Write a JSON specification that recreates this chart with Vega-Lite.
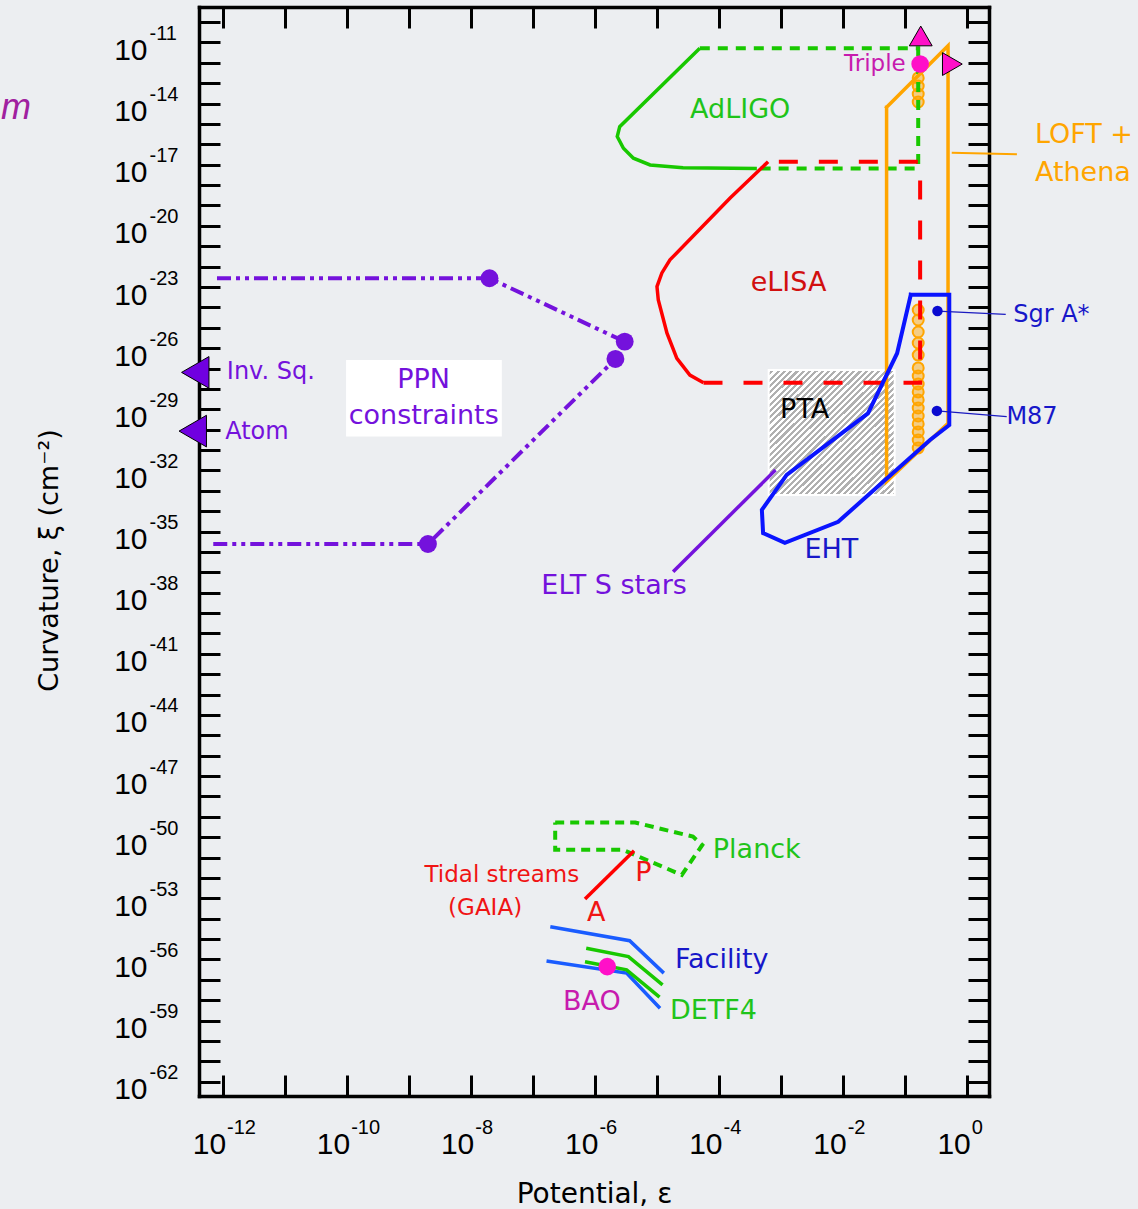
{
  "$schema": "https://vega.github.io/schema/vega-lite/v6.json",
  "width": 790,
  "height": 1089,
  "autosize": {"type": "none"},
  "padding": {"left": 199, "top": 7, "right": 149, "bottom": 113},
  "background": "#eceef1",
  "config": {
    "view": {"stroke": null},
    "font": "DejaVu Sans",
    "axis": {"labelFont": "Liberation Sans", "titleFont": "DejaVu Sans"},
    "text": {"font": "DejaVu Sans"}
  },
  "datasets": {
    "boxes": [
      {"id": "PTA", "x": 6.31e-4, "x2": 0.0676, "y": 8.51e-28, "y2": 6.17e-34},
      {"id": "PPN", "x": 9.77e-11, "x2": 3.16e-8, "y": 2.63e-27, "y2": 4.57e-31}
    ],
    "lines": [
      {"id": "adligo", "i": 0, "x": 4.90e-5, "y": 5.13e-12},
      {"id": "adligo", "i": 1, "x": 2.51e-6, "y": 7.41e-16},
      {"id": "adligo", "i": 2, "x": 2.29e-6, "y": 2.40e-16},
      {"id": "adligo", "i": 3, "x": 2.88e-6, "y": 6.46e-17},
      {"id": "adligo", "i": 4, "x": 4.17e-6, "y": 2.09e-17},
      {"id": "adligo", "i": 5, "x": 7.76e-6, "y": 9.77e-18},
      {"id": "adligo", "i": 6, "x": 2.63e-5, "y": 7.08e-18},
      {"id": "adligo", "i": 7, "x": 4.07e-4, "y": 6.61e-18},
      {"id": "adligo_d", "i": 0, "x": 4.90e-5, "y": 5.13e-12},
      {"id": "adligo_d", "i": 1, "x": 0.162, "y": 5.13e-12},
      {"id": "adligo_d", "i": 2, "x": 0.162, "y": 6.61e-18},
      {"id": "adligo_d", "i": 3, "x": 4.07e-4, "y": 6.61e-18},
      {"id": "elisa", "i": 0, "x": 6.17e-4, "y": 1.41e-17},
      {"id": "elisa", "i": 1, "x": 1.51e-4, "y": 2.34e-19},
      {"id": "elisa", "i": 2, "x": 1.62e-5, "y": 2.14e-22},
      {"id": "elisa", "i": 3, "x": 1.20e-5, "y": 4.90e-23},
      {"id": "elisa", "i": 4, "x": 1.00e-5, "y": 1.05e-23},
      {"id": "elisa", "i": 5, "x": 1.05e-5, "y": 2.29e-24},
      {"id": "elisa", "i": 6, "x": 1.45e-5, "y": 5.37e-26},
      {"id": "elisa", "i": 7, "x": 2.09e-5, "y": 3.16e-27},
      {"id": "elisa", "i": 8, "x": 3.39e-5, "y": 4.79e-28},
      {"id": "elisa", "i": 9, "x": 5.62e-5, "y": 2.00e-28},
      {"id": "elisa_d", "i": 0, "x": 5.62e-5, "y": 2.00e-28},
      {"id": "elisa_d", "i": 1, "x": 0.174, "y": 2.00e-28},
      {"id": "elisa_d", "i": 2, "x": 0.174, "y": 1.41e-17},
      {"id": "elisa_d", "i": 3, "x": 6.17e-4, "y": 1.41e-17},
      {"id": "loft", "i": 0, "x": 0.0501, "y": 6.61e-15},
      {"id": "loft", "i": 1, "x": 0.490, "y": 6.92e-12},
      {"id": "loft", "i": 2, "x": 0.490, "y": 2.04e-30},
      {"id": "loft", "i": 3, "x": 0.0501, "y": 2.82e-33},
      {"id": "loft", "i": 4, "x": 0.0501, "y": 6.61e-15},
      {"id": "loft_lead", "i": 0, "x": 0.562, "y": 3.89e-17},
      {"id": "loft_lead", "i": 1, "x": 6.31, "y": 3.24e-17},
      {"id": "eht", "i": 0, "x": 0.123, "y": 4.17e-24},
      {"id": "eht", "i": 1, "x": 0.513, "y": 4.17e-24},
      {"id": "eht", "i": 2, "x": 0.513, "y": 1.70e-30},
      {"id": "eht", "i": 3, "x": 0.251, "y": 3.09e-31},
      {"id": "eht", "i": 4, "x": 8.32e-3, "y": 3.02e-35},
      {"id": "eht", "i": 5, "x": 1.15e-3, "y": 2.82e-36},
      {"id": "eht", "i": 6, "x": 5.13e-4, "y": 8.32e-36},
      {"id": "eht", "i": 7, "x": 4.90e-4, "y": 1.15e-34},
      {"id": "eht", "i": 8, "x": 1.23e-3, "y": 6.03e-33},
      {"id": "eht", "i": 9, "x": 0.0251, "y": 6.31e-30},
      {"id": "eht", "i": 10, "x": 0.0741, "y": 5.62e-27},
      {"id": "eht", "i": 11, "x": 0.123, "y": 4.17e-24},
      {"id": "sgr_lead", "i": 0, "x": 0.331, "y": 6.61e-25},
      {"id": "sgr_lead", "i": 1, "x": 4.17, "y": 4.57e-25},
      {"id": "m87_lead", "i": 0, "x": 0.324, "y": 8.32e-30},
      {"id": "m87_lead", "i": 1, "x": 4.32, "y": 4.37e-30},
      {"id": "elt", "i": 0, "x": 8.13e-4, "y": 1.05e-32},
      {"id": "elt", "i": 1, "x": 1.82e-5, "y": 1.07e-37},
      {"id": "ppn_u", "i": 0, "x": 8.13e-13, "y": 2.69e-23},
      {"id": "ppn_u", "i": 1, "x": 2.00e-8, "y": 2.69e-23},
      {"id": "ppn_u", "i": 2, "x": 3.02e-6, "y": 2.09e-26},
      {"id": "ppn_l", "i": 0, "x": 7.08e-13, "y": 2.45e-36},
      {"id": "ppn_l", "i": 1, "x": 2.04e-9, "y": 2.45e-36},
      {"id": "ppn_l", "i": 2, "x": 2.14e-6, "y": 2.95e-27},
      {"id": "planck", "i": 0, "x": 2.29e-7, "y": 5.25e-50},
      {"id": "planck", "i": 1, "x": 4.47e-6, "y": 5.25e-50},
      {"id": "planck", "i": 2, "x": 3.80e-5, "y": 1.07e-50},
      {"id": "planck", "i": 3, "x": 5.37e-5, "y": 4.17e-51},
      {"id": "planck", "i": 4, "x": 2.51e-5, "y": 1.41e-52},
      {"id": "planck", "i": 5, "x": 2.82e-6, "y": 2.40e-51},
      {"id": "planck", "i": 6, "x": 2.29e-7, "y": 2.40e-51},
      {"id": "planck", "i": 7, "x": 2.29e-7, "y": 5.25e-50},
      {"id": "tidal", "i": 0, "x": 6.92e-7, "y": 9.33e-54},
      {"id": "tidal", "i": 1, "x": 4.27e-6, "y": 2.19e-51},
      {"id": "fac1", "i": 0, "x": 1.91e-7, "y": 4.07e-55},
      {"id": "fac1", "i": 1, "x": 3.63e-6, "y": 8.32e-56},
      {"id": "fac1", "i": 2, "x": 1.29e-5, "y": 2.14e-57},
      {"id": "fac2", "i": 0, "x": 1.66e-7, "y": 8.51e-57},
      {"id": "fac2", "i": 1, "x": 3.24e-6, "y": 2.14e-57},
      {"id": "fac2", "i": 2, "x": 1.12e-5, "y": 4.07e-59},
      {"id": "detf1", "i": 0, "x": 7.24e-7, "y": 3.55e-56},
      {"id": "detf1", "i": 1, "x": 3.47e-6, "y": 1.38e-56},
      {"id": "detf1", "i": 2, "x": 1.23e-5, "y": 5.62e-58},
      {"id": "detf2", "i": 0, "x": 6.92e-7, "y": 7.76e-57},
      {"id": "detf2", "i": 1, "x": 3.24e-6, "y": 3.09e-57},
      {"id": "detf2", "i": 2, "x": 1.10e-5, "y": 1.41e-58}
    ],
    "points": [
      {"id": "loft", "x": 0.162, "y": 1.82e-13},
      {"id": "loft", "x": 0.162, "y": 7.24e-14},
      {"id": "loft", "x": 0.162, "y": 2.95e-14},
      {"id": "loft", "x": 0.162, "y": 1.20e-14},
      {"id": "loft", "x": 0.162, "y": 7.41e-25},
      {"id": "loft", "x": 0.162, "y": 2.40e-25},
      {"id": "loft", "x": 0.162, "y": 6.17e-26},
      {"id": "loft", "x": 0.162, "y": 1.78e-26},
      {"id": "loft", "x": 0.162, "y": 4.57e-27},
      {"id": "loft", "x": 0.162, "y": 1.07e-27},
      {"id": "loft", "x": 0.162, "y": 4.27e-28},
      {"id": "loft", "x": 0.162, "y": 1.74e-28},
      {"id": "loft", "x": 0.162, "y": 7.08e-29},
      {"id": "loft", "x": 0.162, "y": 2.88e-29},
      {"id": "loft", "x": 0.162, "y": 1.15e-29},
      {"id": "loft", "x": 0.162, "y": 4.68e-30},
      {"id": "loft", "x": 0.162, "y": 1.91e-30},
      {"id": "loft", "x": 0.162, "y": 7.76e-31},
      {"id": "loft", "x": 0.162, "y": 3.09e-31},
      {"id": "loft", "x": 0.162, "y": 1.26e-31},
      {"id": "ppn", "x": 2.00e-8, "y": 2.69e-23},
      {"id": "ppn", "x": 3.02e-6, "y": 2.09e-26},
      {"id": "ppn", "x": 2.14e-6, "y": 2.95e-27},
      {"id": "ppn", "x": 2.04e-9, "y": 2.45e-36},
      {"id": "src", "x": 0.331, "y": 6.61e-25},
      {"id": "src", "x": 0.324, "y": 8.32e-30},
      {"id": "triple", "x": 0.174, "y": 8.71e-13},
      {"id": "bao", "x": 1.58e-6, "y": 4.47e-57},
      {"id": "tri_up", "x": 0.178, "y": 2.09e-11},
      {"id": "tri_right", "x": 0.575, "y": 8.71e-13},
      {"id": "inv", "x": 3.63e-13, "y": 6.46e-28},
      {"id": "atom", "x": 3.31e-13, "y": 8.51e-31}
    ],
    "labels": [
      {"g": "c27", "s": "AdLIGO", "t": "AdLIGO", "x": 2.19e-4, "y": 4.90e-15},
      {"g": "c27", "s": "eLISA", "t": "eLISA", "x": 1.32e-3, "y": 1.51e-23},
      {"g": "c27", "s": "PTA", "t": "PTA", "x": 2.40e-3, "y": 9.33e-30},
      {"g": "c27", "s": "EHT", "t": "EHT", "x": 6.46e-3, "y": 1.26e-36},
      {"g": "c27", "s": "ELT", "t": "ELT S stars", "x": 2.04e-6, "y": 2.14e-38},
      {"g": "c27", "s": "PPN", "t": "PPN", "x": 1.74e-9, "y": 2.75e-28},
      {"g": "c27", "s": "PPN", "t": "constraints", "x": 1.74e-9, "y": 4.68e-30},
      {"g": "c27", "s": "Tidal", "t": "P", "x": 6.03e-6, "y": 1.70e-52},
      {"g": "c27", "s": "Tidal", "t": "A", "x": 1.05e-6, "y": 1.86e-54},
      {"g": "c27", "s": "BAO", "t": "BAO", "x": 8.91e-7, "y": 8.51e-59},
      {"g": "l27", "s": "Planck", "t": "Planck", "x": 7.94e-5, "y": 2.40e-51},
      {"g": "l27", "s": "Facility", "t": "Facility", "x": 1.95e-5, "y": 9.55e-57},
      {"g": "l27", "s": "DETF4", "t": "DETF4", "x": 1.62e-5, "y": 3.09e-59},
      {"g": "l27", "s": "LOFT", "t": "LOFT +", "x": 12.3, "y": 2.88e-16},
      {"g": "l27", "s": "LOFT", "t": "Athena", "x": 12.3, "y": 3.89e-18},
      {"g": "l24", "s": "SgrA", "t": "Sgr A*", "x": 5.50, "y": 4.27e-25},
      {"g": "l24", "s": "M87", "t": "M87", "x": 4.27, "y": 4.37e-30},
      {"g": "l24", "s": "InvSq", "t": "Inv. Sq.", "x": 1.17e-12, "y": 6.76e-28},
      {"g": "l24", "s": "Atom", "t": "Atom", "x": 1.10e-12, "y": 7.59e-31},
      {"g": "c23", "s": "Tidal", "t": "Tidal streams", "x": 3.16e-8, "y": 1.41e-52},
      {"g": "c23", "s": "Tidal", "t": "(GAIA)", "x": 1.70e-8, "y": 3.39e-54},
      {"g": "r23", "s": "Triple", "t": "Triple", "x": 0.102, "y": 8.71e-13},
      {"g": "m", "s": "Intro", "t": "m", "x": 2.69e-16, "y": 6.03e-15}
    ]
  },
  "layer": [
    {
      "encoding": {
        "x": {
          "field": "x", "type": "quantitative",
          "scale": {"type": "log", "domain": [4.17e-13, 2.24], "nice": false, "zero": false},
          "axis": {
            "orient": "bottom",
            "values": [1e-12, 1e-11, 1e-10, 1e-9, 1e-8, 1e-7, 1e-6, 1e-5, 1e-4, 1e-3, 1e-2, 1e-1, 1],
            "labelExpr": "round(log(datum.value)/LN10) % 2 == 0 ? '10' : ''",
            "grid": false,
            "domainColor": "#000000", "domainWidth": 3.5, "domainCap": "square",
            "tickColor": "#000000", "tickWidth": 3, "tickSize": -21,
            "labelFontSize": 30, "labelColor": "#000000", "labelPadding": 78,
            "labelAlign": "right", "labelOffset": 3,
            "labelBaseline": "alphabetic", "labelFlush": false, "labelOverlap": false,
            "title": "Potential, ε", "titleFontSize": 28, "titleFontWeight": "normal",
            "titleColor": "#000000", "titleY": 106, "titleBaseline": "alphabetic"
          }
        },
        "y": {
          "field": "y", "type": "quantitative",
          "scale": {"type": "log", "domain": [2.0e-63, 5.5e-10], "nice": false, "zero": false},
          "axis": {
            "orient": "left",
            "values": [1e-10, 1e-11, 1e-12, 1e-13, 1e-14, 1e-15, 1e-16, 1e-17, 1e-18, 1e-19, 1e-20, 1e-21, 1e-22, 1e-23, 1e-24, 1e-25, 1e-26, 1e-27, 1e-28, 1e-29, 1e-30, 1e-31, 1e-32, 1e-33, 1e-34, 1e-35, 1e-36, 1e-37, 1e-38, 1e-39, 1e-40, 1e-41, 1e-42, 1e-43, 1e-44, 1e-45, 1e-46, 1e-47, 1e-48, 1e-49, 1e-50, 1e-51, 1e-52, 1e-53, 1e-54, 1e-55, 1e-56, 1e-57, 1e-58, 1e-59, 1e-60, 1e-61, 1e-62],
            "labelExpr": "(round(log(datum.value)/LN10) + 11) % 3 == 0 ? '10' : ''",
            "grid": false,
            "domainColor": "#000000", "domainWidth": 3.5, "domainCap": "square",
            "tickColor": "#000000", "tickWidth": 3, "tickSize": -21,
            "labelFontSize": 30, "labelColor": "#000000", "labelPadding": 73,
            "labelAlign": "right", "labelBaseline": "alphabetic", "labelOffset": 17,
            "labelFlush": false, "labelOverlap": false,
            "title": "Curvature, ξ (cm⁻²)", "titleFontSize": 27, "titleFontWeight": "normal",
            "titleColor": "#000000", "titleX": -150, "titleY": 553, "titleBaseline": "middle", "titleAngle": -90, "titleAlign": "center"
          }
        }
      },
      "layer": [
        {
          "data": {"name": "boxes"},
          "encoding": {"x2": {"field": "x2"}, "y2": {"field": "y2"}},
          "layer": [
            {
              "transform": [{"filter": "datum.id == 'PTA'"}],
              "mark": {
                "type": "rect", "stroke": "#ffffff", "strokeWidth": 2,
                "fill": {
                  "gradient": "linear", "x1": 0, "y1": 0, "x2": 1, "y2": 1,
                  "stops": [
                    {"offset": 0, "color": "#fff"}, {"offset": 0.0125, "color": "#fff"}, {"offset": 0.0125, "color": "#b0b0b0"}, {"offset": 0.025, "color": "#b0b0b0"},
                    {"offset": 0.025, "color": "#fff"}, {"offset": 0.0375, "color": "#fff"}, {"offset": 0.0375, "color": "#b0b0b0"}, {"offset": 0.05, "color": "#b0b0b0"},
                    {"offset": 0.05, "color": "#fff"}, {"offset": 0.0625, "color": "#fff"}, {"offset": 0.0625, "color": "#b0b0b0"}, {"offset": 0.075, "color": "#b0b0b0"},
                    {"offset": 0.075, "color": "#fff"}, {"offset": 0.0875, "color": "#fff"}, {"offset": 0.0875, "color": "#b0b0b0"}, {"offset": 0.1, "color": "#b0b0b0"},
                    {"offset": 0.1, "color": "#fff"}, {"offset": 0.1125, "color": "#fff"}, {"offset": 0.1125, "color": "#b0b0b0"}, {"offset": 0.125, "color": "#b0b0b0"},
                    {"offset": 0.125, "color": "#fff"}, {"offset": 0.1375, "color": "#fff"}, {"offset": 0.1375, "color": "#b0b0b0"}, {"offset": 0.15, "color": "#b0b0b0"},
                    {"offset": 0.15, "color": "#fff"}, {"offset": 0.1625, "color": "#fff"}, {"offset": 0.1625, "color": "#b0b0b0"}, {"offset": 0.175, "color": "#b0b0b0"},
                    {"offset": 0.175, "color": "#fff"}, {"offset": 0.1875, "color": "#fff"}, {"offset": 0.1875, "color": "#b0b0b0"}, {"offset": 0.2, "color": "#b0b0b0"},
                    {"offset": 0.2, "color": "#fff"}, {"offset": 0.2125, "color": "#fff"}, {"offset": 0.2125, "color": "#b0b0b0"}, {"offset": 0.225, "color": "#b0b0b0"},
                    {"offset": 0.225, "color": "#fff"}, {"offset": 0.2375, "color": "#fff"}, {"offset": 0.2375, "color": "#b0b0b0"}, {"offset": 0.25, "color": "#b0b0b0"},
                    {"offset": 0.25, "color": "#fff"}, {"offset": 0.2625, "color": "#fff"}, {"offset": 0.2625, "color": "#b0b0b0"}, {"offset": 0.275, "color": "#b0b0b0"},
                    {"offset": 0.275, "color": "#fff"}, {"offset": 0.2875, "color": "#fff"}, {"offset": 0.2875, "color": "#b0b0b0"}, {"offset": 0.3, "color": "#b0b0b0"},
                    {"offset": 0.3, "color": "#fff"}, {"offset": 0.3125, "color": "#fff"}, {"offset": 0.3125, "color": "#b0b0b0"}, {"offset": 0.325, "color": "#b0b0b0"},
                    {"offset": 0.325, "color": "#fff"}, {"offset": 0.3375, "color": "#fff"}, {"offset": 0.3375, "color": "#b0b0b0"}, {"offset": 0.35, "color": "#b0b0b0"},
                    {"offset": 0.35, "color": "#fff"}, {"offset": 0.3625, "color": "#fff"}, {"offset": 0.3625, "color": "#b0b0b0"}, {"offset": 0.375, "color": "#b0b0b0"},
                    {"offset": 0.375, "color": "#fff"}, {"offset": 0.3875, "color": "#fff"}, {"offset": 0.3875, "color": "#b0b0b0"}, {"offset": 0.4, "color": "#b0b0b0"},
                    {"offset": 0.4, "color": "#fff"}, {"offset": 0.4125, "color": "#fff"}, {"offset": 0.4125, "color": "#b0b0b0"}, {"offset": 0.425, "color": "#b0b0b0"},
                    {"offset": 0.425, "color": "#fff"}, {"offset": 0.4375, "color": "#fff"}, {"offset": 0.4375, "color": "#b0b0b0"}, {"offset": 0.45, "color": "#b0b0b0"},
                    {"offset": 0.45, "color": "#fff"}, {"offset": 0.4625, "color": "#fff"}, {"offset": 0.4625, "color": "#b0b0b0"}, {"offset": 0.475, "color": "#b0b0b0"},
                    {"offset": 0.475, "color": "#fff"}, {"offset": 0.4875, "color": "#fff"}, {"offset": 0.4875, "color": "#b0b0b0"}, {"offset": 0.5, "color": "#b0b0b0"},
                    {"offset": 0.5, "color": "#fff"}, {"offset": 0.5125, "color": "#fff"}, {"offset": 0.5125, "color": "#b0b0b0"}, {"offset": 0.525, "color": "#b0b0b0"},
                    {"offset": 0.525, "color": "#fff"}, {"offset": 0.5375, "color": "#fff"}, {"offset": 0.5375, "color": "#b0b0b0"}, {"offset": 0.55, "color": "#b0b0b0"},
                    {"offset": 0.55, "color": "#fff"}, {"offset": 0.5625, "color": "#fff"}, {"offset": 0.5625, "color": "#b0b0b0"}, {"offset": 0.575, "color": "#b0b0b0"},
                    {"offset": 0.575, "color": "#fff"}, {"offset": 0.5875, "color": "#fff"}, {"offset": 0.5875, "color": "#b0b0b0"}, {"offset": 0.6, "color": "#b0b0b0"},
                    {"offset": 0.6, "color": "#fff"}, {"offset": 0.6125, "color": "#fff"}, {"offset": 0.6125, "color": "#b0b0b0"}, {"offset": 0.625, "color": "#b0b0b0"},
                    {"offset": 0.625, "color": "#fff"}, {"offset": 0.6375, "color": "#fff"}, {"offset": 0.6375, "color": "#b0b0b0"}, {"offset": 0.65, "color": "#b0b0b0"},
                    {"offset": 0.65, "color": "#fff"}, {"offset": 0.6625, "color": "#fff"}, {"offset": 0.6625, "color": "#b0b0b0"}, {"offset": 0.675, "color": "#b0b0b0"},
                    {"offset": 0.675, "color": "#fff"}, {"offset": 0.6875, "color": "#fff"}, {"offset": 0.6875, "color": "#b0b0b0"}, {"offset": 0.7, "color": "#b0b0b0"},
                    {"offset": 0.7, "color": "#fff"}, {"offset": 0.7125, "color": "#fff"}, {"offset": 0.7125, "color": "#b0b0b0"}, {"offset": 0.725, "color": "#b0b0b0"},
                    {"offset": 0.725, "color": "#fff"}, {"offset": 0.7375, "color": "#fff"}, {"offset": 0.7375, "color": "#b0b0b0"}, {"offset": 0.75, "color": "#b0b0b0"},
                    {"offset": 0.75, "color": "#fff"}, {"offset": 0.7625, "color": "#fff"}, {"offset": 0.7625, "color": "#b0b0b0"}, {"offset": 0.775, "color": "#b0b0b0"},
                    {"offset": 0.775, "color": "#fff"}, {"offset": 0.7875, "color": "#fff"}, {"offset": 0.7875, "color": "#b0b0b0"}, {"offset": 0.8, "color": "#b0b0b0"},
                    {"offset": 0.8, "color": "#fff"}, {"offset": 0.8125, "color": "#fff"}, {"offset": 0.8125, "color": "#b0b0b0"}, {"offset": 0.825, "color": "#b0b0b0"},
                    {"offset": 0.825, "color": "#fff"}, {"offset": 0.8375, "color": "#fff"}, {"offset": 0.8375, "color": "#b0b0b0"}, {"offset": 0.85, "color": "#b0b0b0"},
                    {"offset": 0.85, "color": "#fff"}, {"offset": 0.8625, "color": "#fff"}, {"offset": 0.8625, "color": "#b0b0b0"}, {"offset": 0.875, "color": "#b0b0b0"},
                    {"offset": 0.875, "color": "#fff"}, {"offset": 0.8875, "color": "#fff"}, {"offset": 0.8875, "color": "#b0b0b0"}, {"offset": 0.9, "color": "#b0b0b0"},
                    {"offset": 0.9, "color": "#fff"}, {"offset": 0.9125, "color": "#fff"}, {"offset": 0.9125, "color": "#b0b0b0"}, {"offset": 0.925, "color": "#b0b0b0"},
                    {"offset": 0.925, "color": "#fff"}, {"offset": 0.9375, "color": "#fff"}, {"offset": 0.9375, "color": "#b0b0b0"}, {"offset": 0.95, "color": "#b0b0b0"},
                    {"offset": 0.95, "color": "#fff"}, {"offset": 0.9625, "color": "#fff"}, {"offset": 0.9625, "color": "#b0b0b0"}, {"offset": 0.975, "color": "#b0b0b0"},
                    {"offset": 0.975, "color": "#fff"}, {"offset": 0.9875, "color": "#fff"}, {"offset": 0.9875, "color": "#b0b0b0"}, {"offset": 1, "color": "#b0b0b0"}
                  ]
                }
              }
            },
            {
              "transform": [{"filter": "datum.id == 'PPN'"}],
              "mark": {"type": "rect", "fill": "#ffffff"}
            }
          ]
        },
        {
          "data": {"name": "points"},
          "transform": [{"filter": "datum.id == 'loft'"}],
          "mark": {"type": "circle", "size": 120, "fill": "#ffa500", "fillOpacity": 0.45, "stroke": "#ffa500", "strokeWidth": 2, "opacity": 1}
        },
        {
          "data": {"name": "lines"},
          "encoding": {"order": {"field": "i", "type": "quantitative"}, "detail": {"field": "id", "type": "nominal"}},
          "layer": [
            {"transform": [{"filter": "datum.id == 'adligo'"}], "mark": {"type": "line", "stroke": "#18c800", "strokeWidth": 3.5}},
            {"transform": [{"filter": "datum.id == 'adligo_d'"}], "mark": {"type": "line", "stroke": "#18c800", "strokeWidth": 4, "strokeDash": [10, 8]}},
            {"transform": [{"filter": "datum.id == 'elisa'"}], "mark": {"type": "line", "stroke": "#ff0000", "strokeWidth": 3.5}},
            {"transform": [{"filter": "datum.id == 'elisa_d'"}], "mark": {"type": "line", "stroke": "#ff0000", "strokeWidth": 4, "strokeDash": [19, 21]}},
            {"transform": [{"filter": "datum.id == 'loft'"}], "mark": {"type": "line", "stroke": "#ffa500", "strokeWidth": 3.5, "strokeCap": "square"}},
            {"transform": [{"filter": "datum.id == 'loft_lead'"}], "mark": {"type": "line", "stroke": "#ffa500", "strokeWidth": 2}},
            {"transform": [{"filter": "datum.id == 'eht'"}], "mark": {"type": "line", "stroke": "#0a14ff", "strokeWidth": 4, "strokeCap": "square"}},
            {"transform": [{"filter": "datum.id == 'sgr_lead' || datum.id == 'm87_lead'"}], "mark": {"type": "line", "stroke": "#1a1ac0", "strokeWidth": 1.2}},
            {"transform": [{"filter": "datum.id == 'elt'"}], "mark": {"type": "line", "stroke": "#7412dc", "strokeWidth": 3.5}},
            {"transform": [{"filter": "datum.id == 'ppn_u' || datum.id == 'ppn_l'"}], "mark": {"type": "line", "stroke": "#7412dc", "strokeWidth": 4, "strokeDash": [14, 5, 4, 5, 4, 5]}},
            {"transform": [{"filter": "datum.id == 'planck'"}], "mark": {"type": "line", "stroke": "#18c800", "strokeWidth": 4, "strokeDash": [9, 6]}},
            {"transform": [{"filter": "datum.id == 'tidal'"}], "mark": {"type": "line", "stroke": "#ff0000", "strokeWidth": 3.5}},
            {"transform": [{"filter": "datum.id == 'fac1' || datum.id == 'fac2'"}], "mark": {"type": "line", "stroke": "#1a5cff", "strokeWidth": 3.5}},
            {"transform": [{"filter": "datum.id == 'detf1' || datum.id == 'detf2'"}], "mark": {"type": "line", "stroke": "#18c800", "strokeWidth": 3.5}}
          ]
        },
        {
          "data": {"name": "points"},
          "layer": [
            {"transform": [{"filter": "datum.id == 'ppn'"}], "mark": {"type": "circle", "size": 320, "fill": "#7412dc", "opacity": 1}},
            {"transform": [{"filter": "datum.id == 'src'"}], "mark": {"type": "circle", "size": 110, "fill": "#0a0ad0", "opacity": 1}},
            {"transform": [{"filter": "datum.id == 'triple' || datum.id == 'bao'"}], "mark": {"type": "circle", "size": 310, "fill": "#ff10c8", "opacity": 1}},
            {
              "transform": [{"filter": "datum.id == 'tri_up' || datum.id == 'tri_right'"}],
              "mark": {"type": "point", "filled": true, "size": 520, "fill": "#ff10c8", "stroke": "#000000", "strokeWidth": 1, "opacity": 1},
              "encoding": {"shape": {"field": "id", "type": "nominal", "scale": {"domain": ["tri_up", "tri_right"], "range": ["triangle-up", "triangle-right"]}, "legend": null}}
            },
            {
              "transform": [{"filter": "datum.id == 'inv' || datum.id == 'atom'"}],
              "mark": {"type": "point", "shape": "triangle-left", "filled": true, "size": 1000, "fill": "#7000e0", "stroke": "#000000", "strokeWidth": 1, "opacity": 1}
            }
          ]
        },
        {
          "data": {"name": "labels"},
          "encoding": {
            "text": {"field": "t", "type": "nominal"},
            "color": {
              "field": "s", "type": "nominal", "legend": null,
              "scale": {
                "domain": ["AdLIGO", "eLISA", "PTA", "EHT", "ELT", "PPN", "Planck", "Tidal", "Facility", "DETF4", "BAO", "Triple", "LOFT", "SgrA", "M87", "InvSq", "Atom", "Intro"],
                "range": ["#1fc41a", "#d10f0f", "#000000", "#1717c9", "#7412dc", "#7412dc", "#1fc41a", "#f01414", "#1717c9", "#1fc41a", "#c71bae", "#c71bae", "#ffa500", "#1717c9", "#1717c9", "#7412dc", "#7412dc", "#a0209f"]
              }
            }
          },
          "layer": [
            {"transform": [{"filter": "datum.g == 'c27'"}], "mark": {"type": "text", "align": "center", "baseline": "middle", "fontSize": 27}},
            {"transform": [{"filter": "datum.g == 'l27'"}], "mark": {"type": "text", "align": "left", "baseline": "middle", "fontSize": 27}},
            {"transform": [{"filter": "datum.g == 'l24'"}], "mark": {"type": "text", "align": "left", "baseline": "middle", "fontSize": 24}},
            {"transform": [{"filter": "datum.g == 'c23'"}], "mark": {"type": "text", "align": "center", "baseline": "middle", "fontSize": 23}},
            {"transform": [{"filter": "datum.g == 'r23'"}], "mark": {"type": "text", "align": "right", "baseline": "middle", "fontSize": 23}},
            {"transform": [{"filter": "datum.g == 'm'"}], "mark": {"type": "text", "align": "left", "baseline": "middle", "fontSize": 36, "font": "Liberation Sans", "fontStyle": "italic"}}
          ]
        }
      ]
    },
    {
      "data": {"values": [{"x": 1e-6, "y": 1e-30}]},
      "mark": {"type": "point", "opacity": 0},
      "encoding": {
        "x": {
          "field": "x", "type": "quantitative",
          "scale": {"type": "log", "domain": [4.17e-13, 2.24], "nice": false, "zero": false},
          "axis": {
            "orient": "top",
            "values": [1e-12, 1e-11, 1e-10, 1e-9, 1e-8, 1e-7, 1e-6, 1e-5, 1e-4, 1e-3, 1e-2, 1e-1, 1],
            "labels": false, "grid": false, "title": null,
            "domainColor": "#000000", "domainWidth": 3.5, "domainCap": "square",
            "tickColor": "#000000", "tickWidth": 3, "tickSize": -21
          }
        },
        "y": {
          "field": "y", "type": "quantitative",
          "scale": {"type": "log", "domain": [2.0e-63, 5.5e-10], "nice": false, "zero": false},
          "axis": {
            "orient": "right",
            "values": [1e-10, 1e-11, 1e-12, 1e-13, 1e-14, 1e-15, 1e-16, 1e-17, 1e-18, 1e-19, 1e-20, 1e-21, 1e-22, 1e-23, 1e-24, 1e-25, 1e-26, 1e-27, 1e-28, 1e-29, 1e-30, 1e-31, 1e-32, 1e-33, 1e-34, 1e-35, 1e-36, 1e-37, 1e-38, 1e-39, 1e-40, 1e-41, 1e-42, 1e-43, 1e-44, 1e-45, 1e-46, 1e-47, 1e-48, 1e-49, 1e-50, 1e-51, 1e-52, 1e-53, 1e-54, 1e-55, 1e-56, 1e-57, 1e-58, 1e-59, 1e-60, 1e-61, 1e-62],
            "labels": false, "grid": false, "title": null,
            "domainColor": "#000000", "domainWidth": 3.5, "domainCap": "square",
            "tickColor": "#000000", "tickWidth": 3, "tickSize": -21
          }
        }
      }
    },
    {
      "data": {"values": [{"x": 1e-6, "y": 1e-30}]},
      "mark": {"type": "point", "opacity": 0},
      "encoding": {
        "x": {
          "field": "x", "type": "quantitative",
          "scale": {"type": "log", "domain": [4.17e-13, 2.24], "nice": false, "zero": false},
          "axis": {
            "orient": "bottom",
            "values": [1e-12, 1e-10, 1e-8, 1e-6, 1e-4, 1e-2, 1],
            "labelExpr": "'' + round(log(datum.value)/LN10)",
            "domain": false, "ticks": false, "tickSize": 0, "grid": false, "title": null,
            "labelFontSize": 20, "labelColor": "#000000", "labelPadding": 37,
            "labelAlign": "left", "labelOffset": 4, "labelBaseline": "alphabetic",
            "labelFlush": false, "labelOverlap": false
          }
        },
        "y": {
          "field": "y", "type": "quantitative",
          "scale": {"type": "log", "domain": [2.0e-63, 5.5e-10], "nice": false, "zero": false},
          "axis": {
            "orient": "left",
            "values": [1e-11, 1e-14, 1e-17, 1e-20, 1e-23, 1e-26, 1e-29, 1e-32, 1e-35, 1e-38, 1e-41, 1e-44, 1e-47, 1e-50, 1e-53, 1e-56, 1e-59, 1e-62],
            "labelExpr": "'' + round(log(datum.value)/LN10)",
            "domain": false, "ticks": false, "tickSize": 0, "grid": false, "title": null,
            "labelFontSize": 20, "labelColor": "#000000", "labelPadding": 50,
            "labelAlign": "left", "labelOffset": -3, "labelBaseline": "alphabetic",
            "labelFlush": false, "labelOverlap": false
          }
        }
      }
    }
  ],
  "resolve": {"axis": {"x": "independent", "y": "independent"}}
}
